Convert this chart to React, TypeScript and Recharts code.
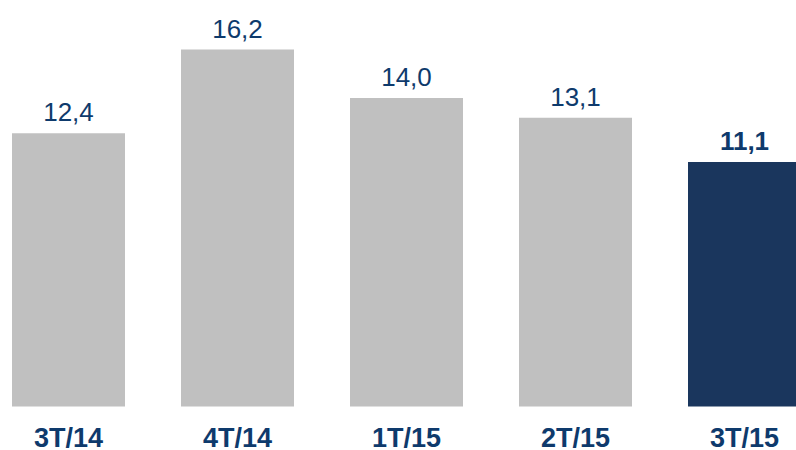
import React from "react";
import { BarChart, Bar, XAxis, YAxis, Cell, LabelList } from "recharts";

const categories = ["3T/14", "4T/14", "1T/15", "2T/15", "3T/15"];
const values = [12.4, 16.2, 14.0, 13.1, 11.1];
const highlighted = [false, false, false, false, true];

const data = categories.map((c, i) => ({ name: c, value: values[i], hi: highlighted[i] }));

const GRAY = "#c0c0c0";
const NAVY = "#1a365d";
const TEXT = "#0e3a6c";
const FONT = "'Liberation Sans', Arial, sans-serif";

const fmt = (v: number) => v.toFixed(1).replace(".", ",");

const ValueLabel = (props: any) => {
  const { x, y, width, value, index } = props;
  const bold = highlighted[index];
  return (
    <text
      x={x + width / 2}
      y={y - 12}
      textAnchor="middle"
      fill={TEXT}
      fontFamily={FONT}
      fontSize={26}
      fontWeight={bold ? 700 : 400}
    >
      {fmt(value)}
    </text>
  );
};

const Tick = (props: any) => {
  const { x, y, payload } = props;
  return (
    <text
      x={x}
      y={y}
      dy={40.5}
      textAnchor="middle"
      fill={TEXT}
      fontFamily={FONT}
      fontSize={27}
      fontWeight={700}
    >
      {payload.value}
    </text>
  );
};

export default function App() {
  return (
    <div
      style={{
        position: "absolute",
        left: 0,
        top: 0,
        width: 796,
        height: 450,
        overflow: "hidden",
        background: "#fff",
      }}
    >
      <div style={{ position: "relative", left: -16 }}>
        <BarChart
          width={845}
          height={450}
          data={data}
          margin={{ top: 0, right: 0, bottom: 0, left: 0 }}
          barSize={113}
        >
          <XAxis
            dataKey="name"
            axisLine={false}
            tickLine={false}
            tickSize={0}
            tickMargin={0}
            height={43.5}
            interval={0}
            tick={<Tick />}
          />
          <YAxis hide domain={[0, 18.45]} type="number" />
          <Bar dataKey="value" isAnimationActive={false}>
            {data.map((d, i) => (
              <Cell key={i} fill={d.hi ? NAVY : GRAY} />
            ))}
            <LabelList dataKey="value" content={<ValueLabel />} />
          </Bar>
        </BarChart>
      </div>
    </div>
  );
}
